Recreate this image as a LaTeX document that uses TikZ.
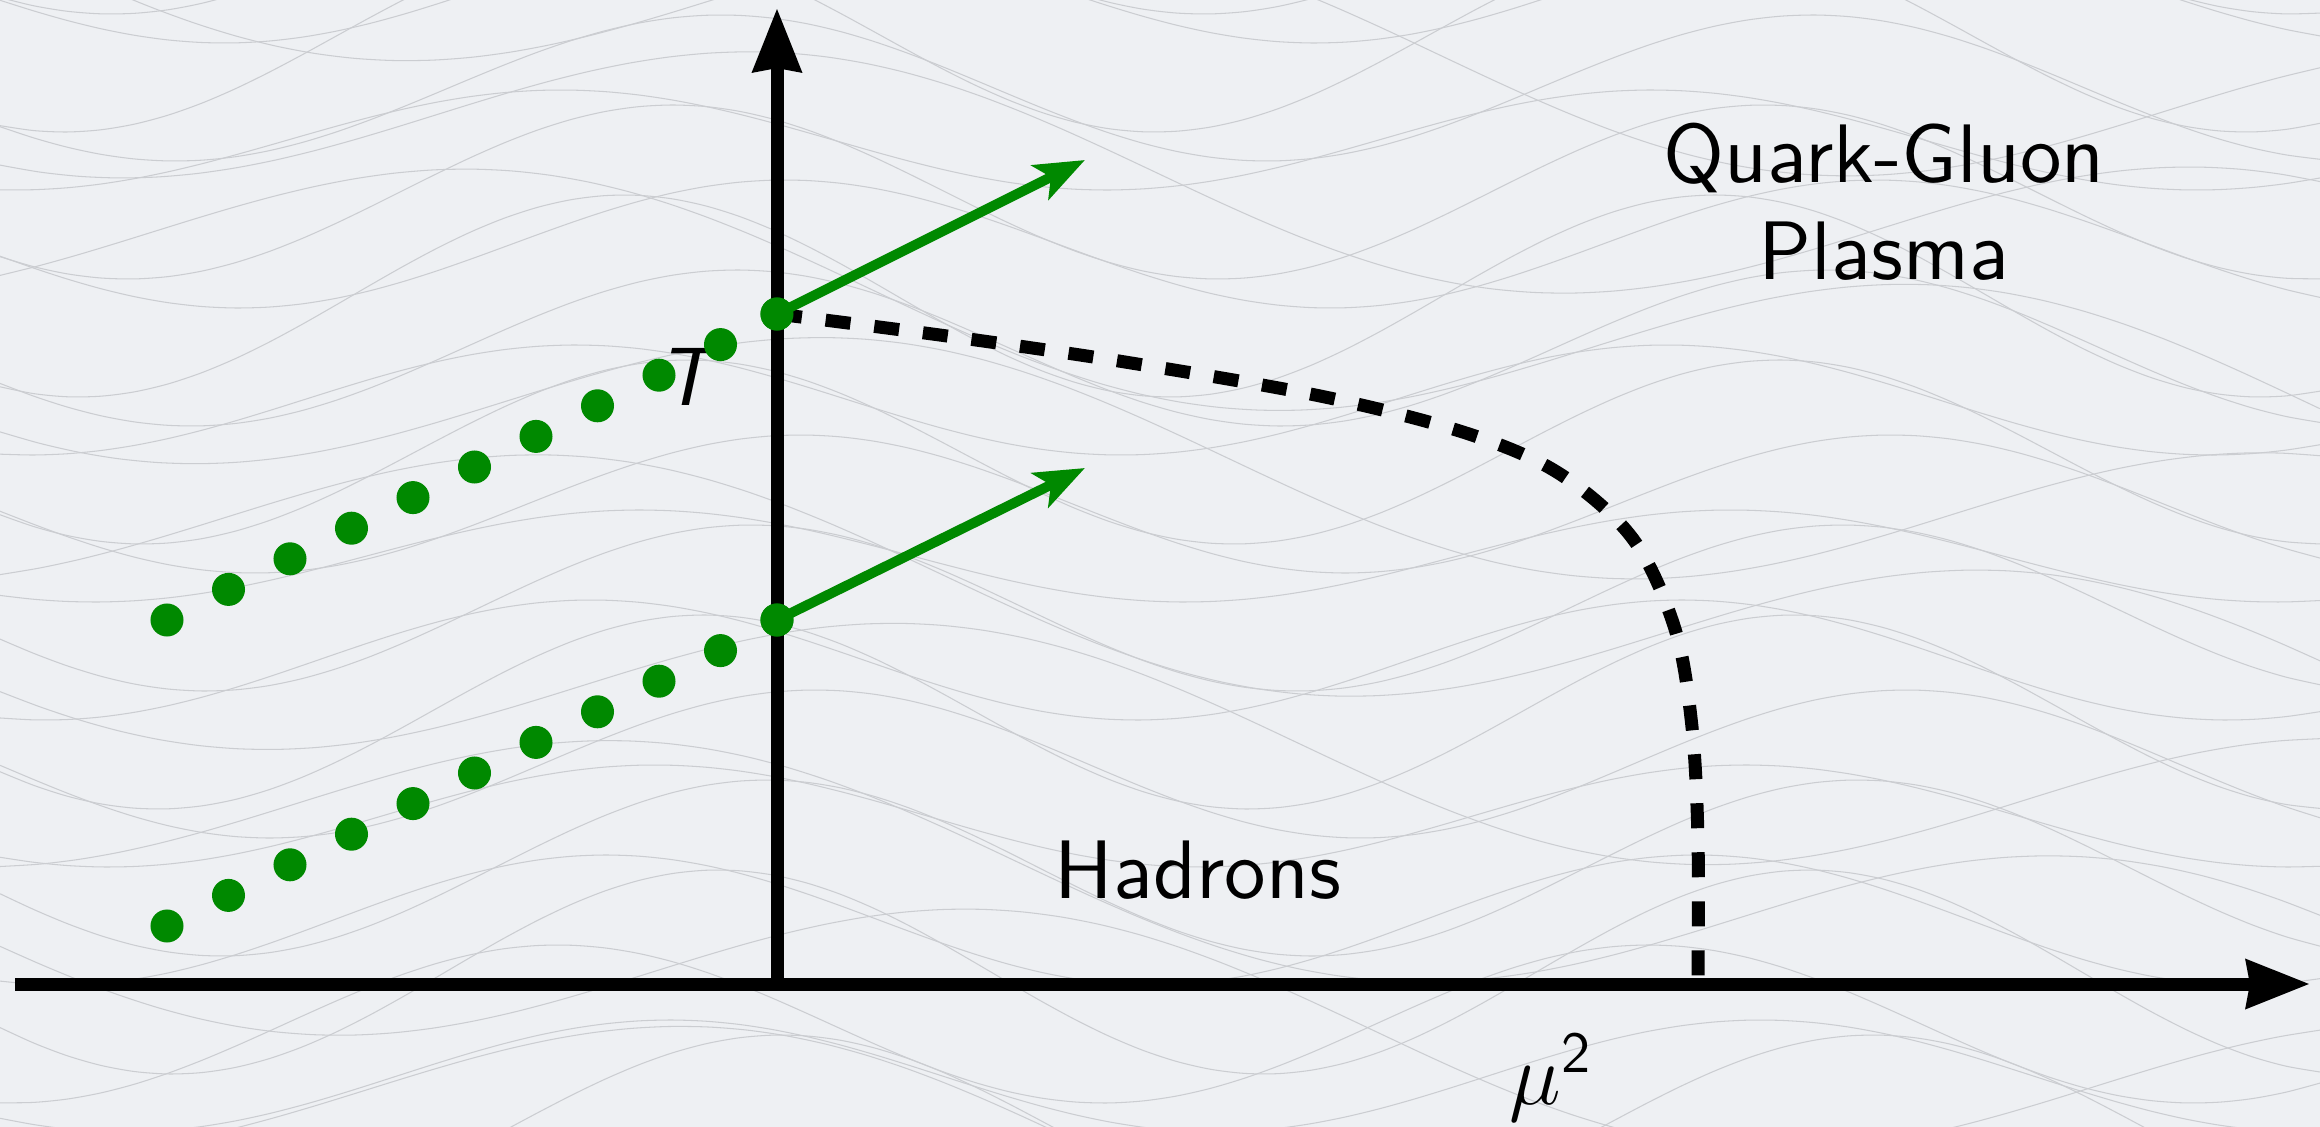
\documentclass[tikz,border=0pt]{standalone}
\usepackage{fontspec}
\setsansfont{lmsans10-regular}[Extension=.otf,ItalicFont=lmsans10-oblique]
\usetikzlibrary{arrows.meta}
\definecolor{bgc}{RGB}{238,240,243}
\definecolor{wavec}{RGB}{203,205,209}
\definecolor{dotgreen}{RGB}{0,137,0}
\begin{document}
\begin{tikzpicture}[x=0.01cm,y=-0.01cm,
  wave/.style={draw=wavec,line width=0.3pt},
  axis/.style={line width=0.13cm,black,-{Stealth[length=0.63cm,width=0.47cm,inset=0.03cm]}},
  gdot/.style={circle,fill=dotgreen,draw=none,minimum size=0.33cm,inner sep=0pt},
  garrow/.style={line width=0.1cm,dotgreen,-{Stealth[length=0.5cm,width=0.38cm,inset=0.12cm]}},
  crit/.style={line width=0.13cm,black,dash pattern=on 0.25cm off 0.24cm},
  lbl/.style={font=\sffamily\fontsize{23.6}{27.6}\selectfont,inner sep=0pt,align=center}]
\useasboundingbox (0,0) rectangle (2320,1127);
\fill[bgc] (0,0) rectangle (2320,1127);
% background texture
\begin{scope}
\clip (0,0) rectangle (2320,1127);
\foreach \i in {0,...,24} {
  \pgfmathsetmacro\yy{-120+\i*52}
  \pgfmathsetmacro\aa{45+mod(\i*37,60)}
  \pgfmathsetmacro\pp{mod(\i*53,90)}
  \draw[wave] plot[domain=0:2320,samples=70,smooth] (\x,{\yy+\aa*sin(0.33*\x+\pp)});
}
\foreach \i in {0,...,8} {
  \pgfmathsetmacro\yy{-60+\i*140}
  \pgfmathsetmacro\pp{mod(\i*71,160)}
  \draw[wave] plot[domain=0:2320,samples=60,smooth] (\x,{\yy+0.08*\x+90*sin(0.25*\x+\pp)});
}
\end{scope}
% axes
\coordinate (xo) at (15,984);
\coordinate (xe) at (2310,984);
\coordinate (yo) at (777,990);
\coordinate (ye) at (777,8);
\draw[axis] (xo) -- (xe);
\draw[axis] (yo) -- (ye);
% T label (below the dots)
\node[lbl,anchor=base] (tlab) at (686,405) {\itshape T};
% critical line
\node[gdot] (tU) at (777,314) {};
\node[gdot] (tL) at (777,620) {};
\coordinate (cend) at (1698,984);
\draw[crit] plot[smooth,tension=0.55] coordinates {(777,314) (947,336) (1125,362) (1325,397) (1469,434) (1560,474) (1633,539) (1675,629) (1692,727) (1698,840) (1698,984)};
% green dotted trajectories
\foreach \i in {0,...,9} {
  \node[gdot] (dU\i) at ({167+61.5*\i},{620-30.6*\i}) {};
  \node[gdot] (dL\i) at ({167+61.5*\i},{926-30.6*\i}) {};
}
% green arrows
\coordinate (aU) at (1085,160);
\coordinate (aL) at (1085,468);
\draw[garrow] (tU.center) -- (aU);
\draw[garrow] (tL.center) -- (aL);
\node[gdot] at (tU) {};
\node[gdot] at (tL) {};
% labels
\node[lbl] (qgp) at (1884,202) {Quark-Gluon\\Plasma};
\node[lbl,anchor=base] (had) at (1198,898) {Hadrons};
\node[lbl,anchor=base] (mulab) at (1551,1104) {$\mu^{\mathsf{2}}$};
\end{tikzpicture}
\end{document}
